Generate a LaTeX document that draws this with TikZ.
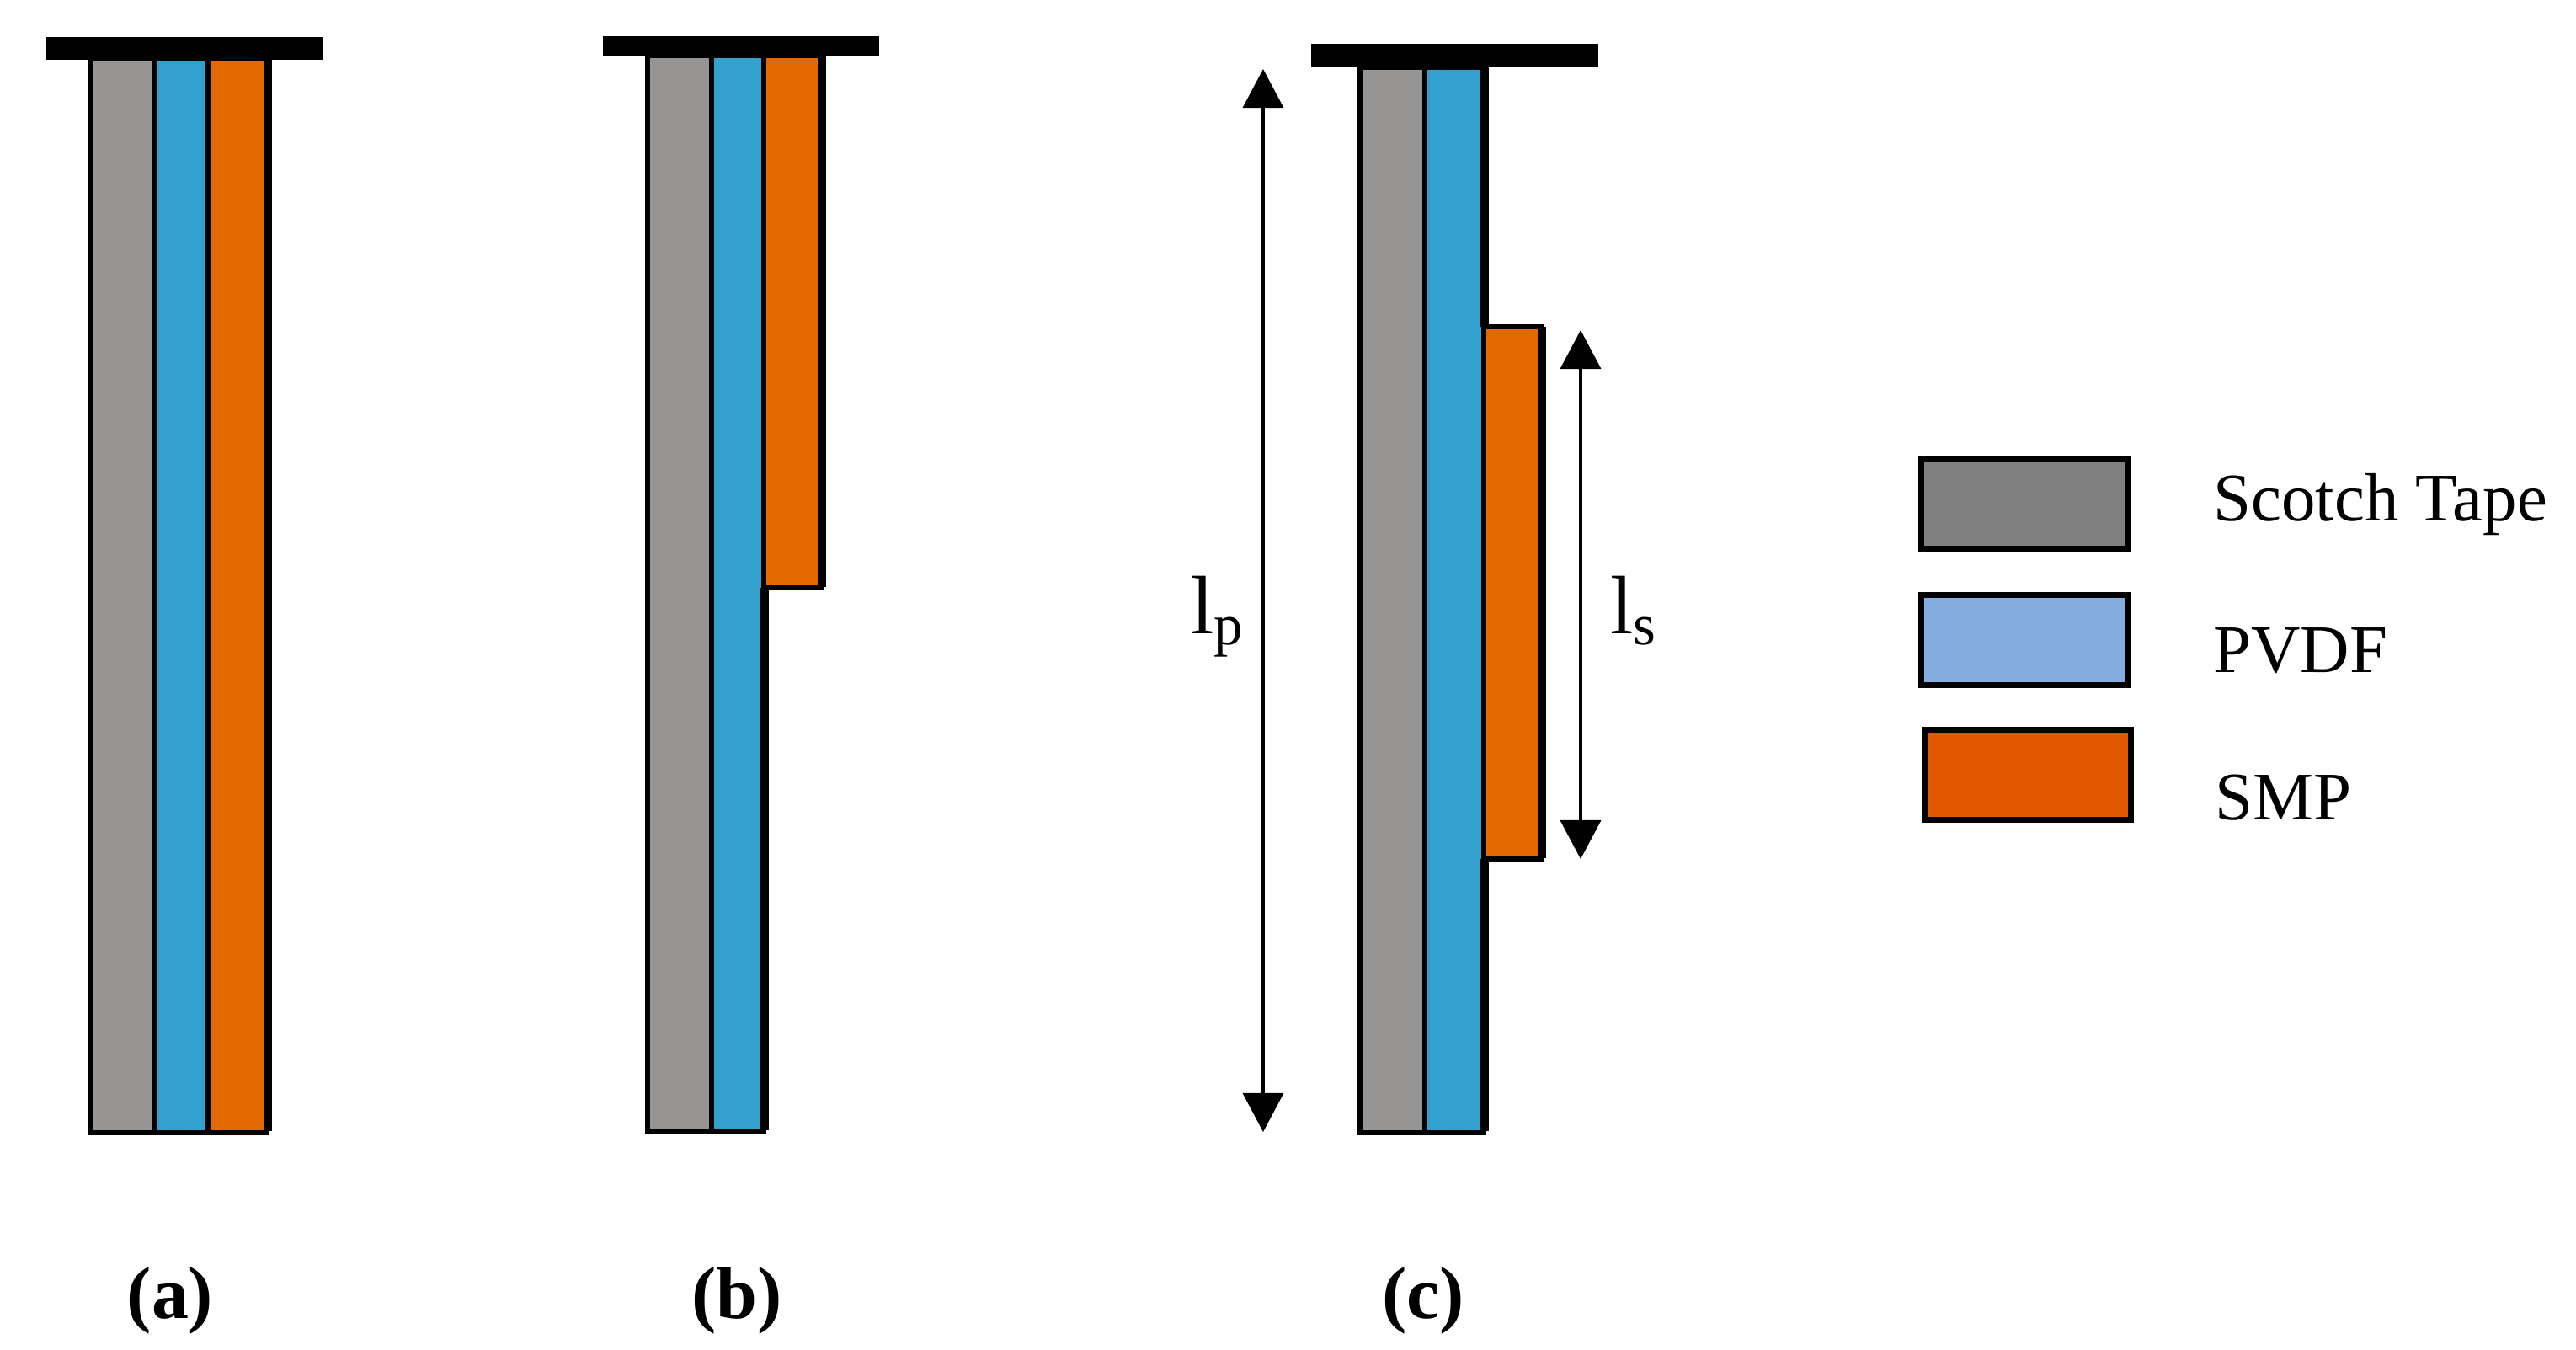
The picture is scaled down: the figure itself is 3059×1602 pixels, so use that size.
\documentclass[tikz,border=0pt]{standalone}
\usepackage{fontspec}
\setmainfont{Liberation Serif}
\usetikzlibrary{arrows.meta,positioning}
\definecolor{tapegray}{RGB}{150,149,147}
\definecolor{pvdfblue}{RGB}{52,160,206}
\definecolor{smporange}{RGB}{226,104,0}
\definecolor{keygray}{RGB}{128,128,128}
\definecolor{keyblue}{RGB}{132,173,222}
\definecolor{keyorange}{RGB}{224,88,0}

\begin{document}
\begin{tikzpicture}[x=0.01cm,y=-0.01cm,>={Triangle[length=0.46cm,width=0.48cm]},line join=miter,
  ply/.style={draw=black,line width=0.065cm},
  edge/.style={line width=0.1cm},
  keybox/.style={draw=black,line width=0.07cm,minimum width=2.44cm,minimum height=1.06cm,inner sep=0pt},
  keytext/.style={anchor=base west,font=\fontsize{23}{26}\selectfont},
  caption/.style={anchor=base,font=\fontsize{25}{28}\selectfont\bfseries},
  dim/.style={<->,line width=0.035cm}]
\useasboundingbox (0,0) rectangle (3059,1602);
% (a)
\filldraw[ply,fill=tapegray] (108,70) rectangle (183,1345);
\filldraw[ply,fill=pvdfblue] (183,70) rectangle (247,1345);
\filldraw[ply,fill=smporange] (247,70) rectangle (317,1345);
\draw[edge] (318,70) -- (318,1343);
\fill (55,44) rectangle (383,71);
% (b)
\filldraw[ply,fill=tapegray] (769,66) rectangle (845,1344);
\filldraw[ply,fill=pvdfblue] (845,66) rectangle (907,1344);
\filldraw[ply,fill=smporange] (907,66) rectangle (975,698);
\draw[edge] (976,66) -- (976,697);
\draw[edge] (908,698) -- (908,1342);
\fill (716,43) rectangle (1044,67);
% (c)
\filldraw[ply,fill=tapegray] (1615,80) rectangle (1692,1345);
\filldraw[ply,fill=pvdfblue] (1692,80) rectangle (1762,1345);
\filldraw[ply,fill=smporange] (1762,388) rectangle (1830,1020);
\draw[edge] (1763,80) -- (1763,388);
\draw[edge] (1763,1020) -- (1763,1343);
\draw[edge] (1831,388) -- (1831,1019);
\fill (1557,52) rectangle (1898,80);
\coordinate (lptop) at (1500,82);
\coordinate (lpbot) at (1500,1344);
\coordinate (lstop) at (1877,392);
\coordinate (lsbot) at (1877,1020);
\draw[dim] (lptop) -- (lpbot);
\draw[dim] (lstop) -- (lsbot);
\node[anchor=base,font=\fontsize{28}{30}\selectfont] (lp) at (1446,752) {l\textsubscript{p}};
\node[anchor=base,font=\fontsize{28}{30}\selectfont] (ls) at (1940,752) {l\textsubscript{s}};
% key
\node[keybox,fill=keygray] (tape) at (2404,598) {};
\node[keybox,fill=keyblue] (pvdf) at (2404,760) {};
\node[keybox,fill=keyorange] (smp) at (2408,920) {};
\node[keytext] (tapetext) at (2616,618) {Scotch Tape};
\node[keytext] (pvdftext) at (2616,798) {PVDF};
\node[keytext] (smptext) at (2618,973) {SMP};
% captions
\node[caption] (capa) at (202,1565) {(a)};
\node[caption] (capb) at (875,1565) {(b)};
\node[caption] (capc) at (1690,1565) {(c)};
\end{tikzpicture}
\end{document}
